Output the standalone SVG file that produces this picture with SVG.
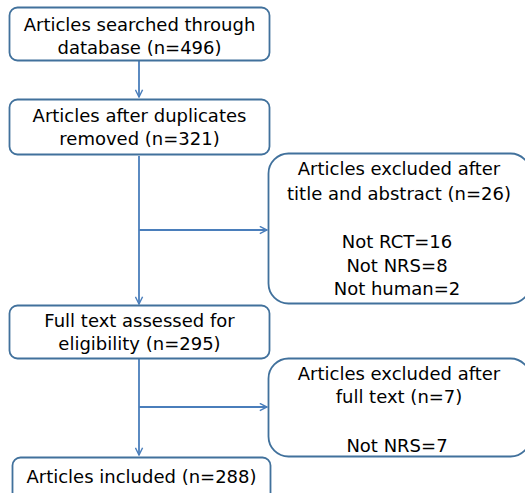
<svg xmlns="http://www.w3.org/2000/svg" width="525" height="493" viewBox="0 0 525 493">
<defs>
<style>
.box{fill:#fff;stroke:#41719C;stroke-width:1.8}
.t{font-family:"DejaVu Sans","Noto Sans",sans-serif;font-size:18px;fill:#000;text-anchor:middle}
.c{fill:none;stroke:#4A7EBB;stroke-width:1.8}
</style>
<marker id="ah" viewBox="0 0 10 10" refX="9" refY="5" markerWidth="9" markerHeight="9" markerUnits="userSpaceOnUse" orient="auto">
<path d="M1,1 L9,5 L1,9" fill="none" stroke="#4A7EBB" stroke-width="1.6"/>
</marker>
</defs>
<g id="connectors">
<line class="c" x1="139" y1="61" x2="139" y2="97" marker-end="url(#ah)"/>
<line class="c" x1="139" y1="156" x2="139" y2="304" marker-end="url(#ah)"/>
<line class="c" x1="139" y1="230" x2="267" y2="230" marker-end="url(#ah)"/>
<line class="c" x1="139" y1="359" x2="139" y2="455" marker-end="url(#ah)"/>
<line class="c" x1="139" y1="407" x2="267" y2="407" marker-end="url(#ah)"/>
</g>
<g id="n1">
<rect class="box" x="9.5" y="7.5" width="260" height="53" rx="8"/>
<text class="t" x="139.5" y="31">Articles searched through</text>
<text class="t" x="139.5" y="53.5">database (n=496)</text>
</g>
<g id="n2">
<rect class="box" x="9.5" y="99.5" width="260" height="55" rx="8"/>
<text class="t" x="139.5" y="122">Articles after duplicates</text>
<text class="t" x="139.5" y="145">removed (n=321)</text>
</g>
<g id="n3">
<rect class="box" x="9.5" y="305.5" width="260" height="53" rx="8"/>
<text class="t" x="139.5" y="327">Full text assessed for</text>
<text class="t" x="139.5" y="350">eligibility  (n=295)</text>
</g>
<g id="n4">
<rect class="box" x="12.5" y="457.5" width="258" height="45" rx="8"/>
<text class="t" x="141.5" y="483">Articles included  (n=288)</text>
</g>
<g id="n5">
<rect class="box" x="268.5" y="153.5" width="262" height="150" rx="20"/>
<text class="t" x="399" y="175">Articles excluded after</text>
<text class="t" x="399" y="200">title and abstract (n=26)</text>
<text class="t" x="397" y="248">Not RCT=16</text>
<text class="t" x="397" y="272">Not NRS=8</text>
<text class="t" x="397" y="295">Not human=2</text>
</g>
<g id="n6">
<rect class="box" x="268.5" y="358.5" width="262" height="98" rx="20"/>
<text class="t" x="399" y="380">Articles excluded after</text>
<text class="t" x="399" y="403">full text (n=7)</text>
<text class="t" x="397" y="452">Not NRS=7</text>
</g>
</svg>
